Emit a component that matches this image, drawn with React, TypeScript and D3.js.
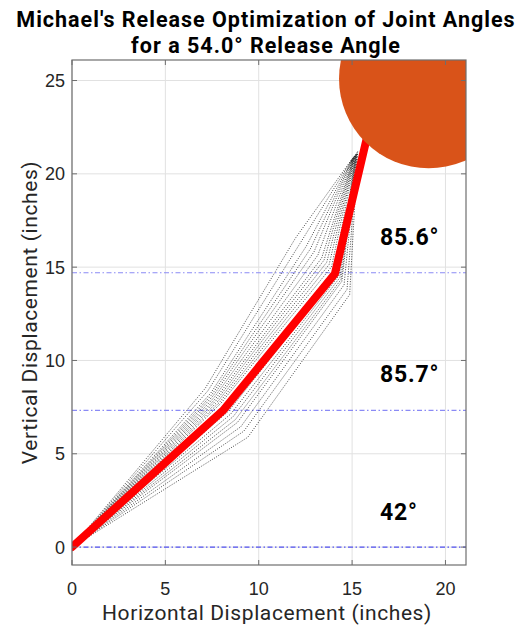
import React from "react";
import * as d3 from "d3";

const W = 529;
const H = 629;

const titleLines = ["Michael's Release Optimization of Joint Angles", "for a 54.0° Release Angle"];
const xLabel = "Horizontal Displacement (inches)";
const yLabel = "Vertical Displacement (inches)";
const xTicks = [0, 5, 10, 15, 20];
const yTicks = [0, 5, 10, 15, 20, 25];

// best (optimized) arm configuration: shoulder, elbow, wrist, hand
const bestArmX = [0, 8.1, 14.08, 15.9];
const bestArmY = [0, 7.33, 14.65, 22.4];

// tried configurations (dotted)
const trialElbowX = [7.13, 7.28, 7.43, 7.5, 7.57, 7.64, 7.71, 7.78, 7.85, 7.92, 7.98, 8.12, 8.38, 8.5, 8.63, 8.75, 8.86, 9.04, 9.2, 9.41];
const trialElbowY = [8.5, 8.38, 8.25, 8.18, 8.12, 8.05, 7.98, 7.92, 7.85, 7.78, 7.71, 7.57, 7.28, 7.13, 6.99, 6.83, 6.68, 6.45, 6.21, 5.88];
const trialWristX = [11.97, 12.26, 12.55, 12.76, 12.96, 13.17, 13.37, 13.5, 13.64, 13.77, 13.9, 14.04, 14.23, 14.29, 14.35, 14.41, 14.45, 14.57, 14.73, 14.87];
const trialWristY = [16.56, 16.35, 16.13, 15.97, 15.82, 15.65, 15.49, 15.38, 15.26, 15.14, 15.02, 14.88, 14.64, 14.54, 14.45, 14.34, 14.24, 14.05, 13.81, 13.53];
const trialHandX = [15.0, 15.02, 15.03, 15.05, 15.06, 15.08, 15.1, 15.11, 15.12, 15.14, 15.15, 15.17, 15.19, 15.2, 15.22, 15.23, 15.25, 15.26, 15.28, 15.3];
const trialHandY = [20.8, 20.82, 20.84, 20.86, 20.88, 20.9, 20.92, 20.94, 20.96, 20.98, 21.0, 21.02, 21.04, 21.06, 21.08, 21.1, 21.12, 21.14, 21.16, 21.2];

// joint reference levels (dash-dot)
const jointLevels = [0, 7.33, 14.7];

// joint angle annotations
const angleLabels = ["85.6°", "85.7°", "42°"];
const angleLabelX = [16.5, 16.5, 16.5];
const angleLabelY = [16.65, 9.28, 1.93];

// ball
const ballX = 19.1;
const ballY = 25.1;
const ballR = 4.8;

const xDomain = [0, 21.1];
const yDomain = [-0.96, 26.1];

export default function App() {
  const left = 72, right = 466, top = 60, bottom = 565;
  const x = d3.scaleLinear().domain(xDomain).range([left, right]);
  const y = d3.scaleLinear().domain(yDomain).range([bottom, top]);
  const line = d3.line<[number, number]>().x(d => x(d[0])).y(d => y(d[1]));
  const axisColor = "#6e6e6e";
  const tickLen = 5;

  const bestPts: [number, number][] = bestArmX.map((v, i) => [v, bestArmY[i]]);
  const trials: [number, number][][] = trialElbowX.map((_, i) => [
    [0, 0],
    [trialElbowX[i], trialElbowY[i]],
    [trialWristX[i], trialWristY[i]],
    [trialHandX[i], trialHandY[i]],
  ]);
  const pxPerUnit = x(1) - x(0);

  return (
    <svg width={W} height={H} style={{ position: "absolute", left: 0, top: 0, background: "#fff" }}>
      <defs>
        <clipPath id="plotClip">
          <rect x={left} y={top} width={right - left} height={bottom - top} />
        </clipPath>
      </defs>
      <rect x={0} y={0} width={W} height={H} fill="#fff" />
      {/* grid */}
      {xTicks.map(t => (
        <line key={"gx" + t} x1={x(t)} x2={x(t)} y1={top} y2={bottom} stroke="#e1e1e1" strokeWidth={1} />
      ))}
      {yTicks.map(t => (
        <line key={"gy" + t} x1={left} x2={right} y1={y(t)} y2={y(t)} stroke="#e1e1e1" strokeWidth={1} />
      ))}
      <g clipPath="url(#plotClip)">
        {jointLevels.map((lv, i) => (
          <line key={"lv" + i} x1={x(xDomain[0])} x2={x(xDomain[1])} y1={y(lv)} y2={y(lv)}
            stroke={i === 0 ? "#5050f0" : "#8a8af5"} strokeWidth={1.2} strokeDasharray="5 2.5 1.5 2.5" />
        ))}
        {trials.map((pts, i) => (
          <path key={"tr" + i} d={line(pts) || ""} fill="none" stroke="#000" strokeWidth={0.8}
            strokeDasharray="1 1.5" strokeOpacity={0.9} />
        ))}
        <path d={line(bestPts) || ""} fill="none" stroke="#ff0000" strokeWidth={8} strokeLinejoin="miter" strokeLinecap="round" />
        <circle cx={x(ballX)} cy={y(ballY)} r={ballR * pxPerUnit} fill="#d95319" />
      </g>
      {/* axis box */}
      <rect x={left} y={top} width={right - left} height={bottom - top} fill="none" stroke={axisColor} strokeWidth={1.2} />
      {xTicks.map(t => (
        <g key={"xt" + t}>
          <line x1={x(t)} x2={x(t)} y1={bottom} y2={bottom - tickLen} stroke={axisColor} />
          <line x1={x(t)} x2={x(t)} y1={top} y2={top + tickLen} stroke={axisColor} />
          <text x={x(t)} y={595} textAnchor="middle" fontFamily="'Liberation Sans', Arial, sans-serif" fontSize={18} fill="#262626">{t}</text>
        </g>
      ))}
      {yTicks.map(t => (
        <g key={"yt" + t}>
          <line x1={left} x2={left + tickLen} y1={y(t)} y2={y(t)} stroke={axisColor} />
          <line x1={right} x2={right - tickLen} y1={y(t)} y2={y(t)} stroke={axisColor} />
          <text x={65} y={y(t) + 6.5} textAnchor="end" fontFamily="'Liberation Sans', Arial, sans-serif" fontSize={18} fill="#262626">{t}</text>
        </g>
      ))}
      {/* angle labels */}
      {angleLabels.map((s, i) => (
        <text key={"al" + i} x={x(angleLabelX[i])} y={y(angleLabelY[i]) + 8.5} fontFamily="Roboto, sans-serif" fontWeight="bold"
          fontSize={23} letterSpacing={0.8} fill="#000">{s}</text>
      ))}
      {/* title */}
      {titleLines.map((s, i) => (
        <text key={"t" + i} x={266} y={27 + i * 26} textAnchor="middle" fontFamily="Roboto, sans-serif" fontWeight="bold"
          fontSize={21.5} letterSpacing={1.0} fill="#000">{s}</text>
      ))}
      <text x={267} y={620} textAnchor="middle" fontFamily="Roboto, sans-serif" fontSize={21} letterSpacing={0.6} fill="#262626">{xLabel}</text>
      <text transform={`translate(37, ${(top + bottom) / 2}) rotate(-90)`} textAnchor="middle" fontFamily="Roboto, sans-serif"
        fontSize={21} letterSpacing={0.6} fill="#262626">{yLabel}</text>
    </svg>
  );
}
